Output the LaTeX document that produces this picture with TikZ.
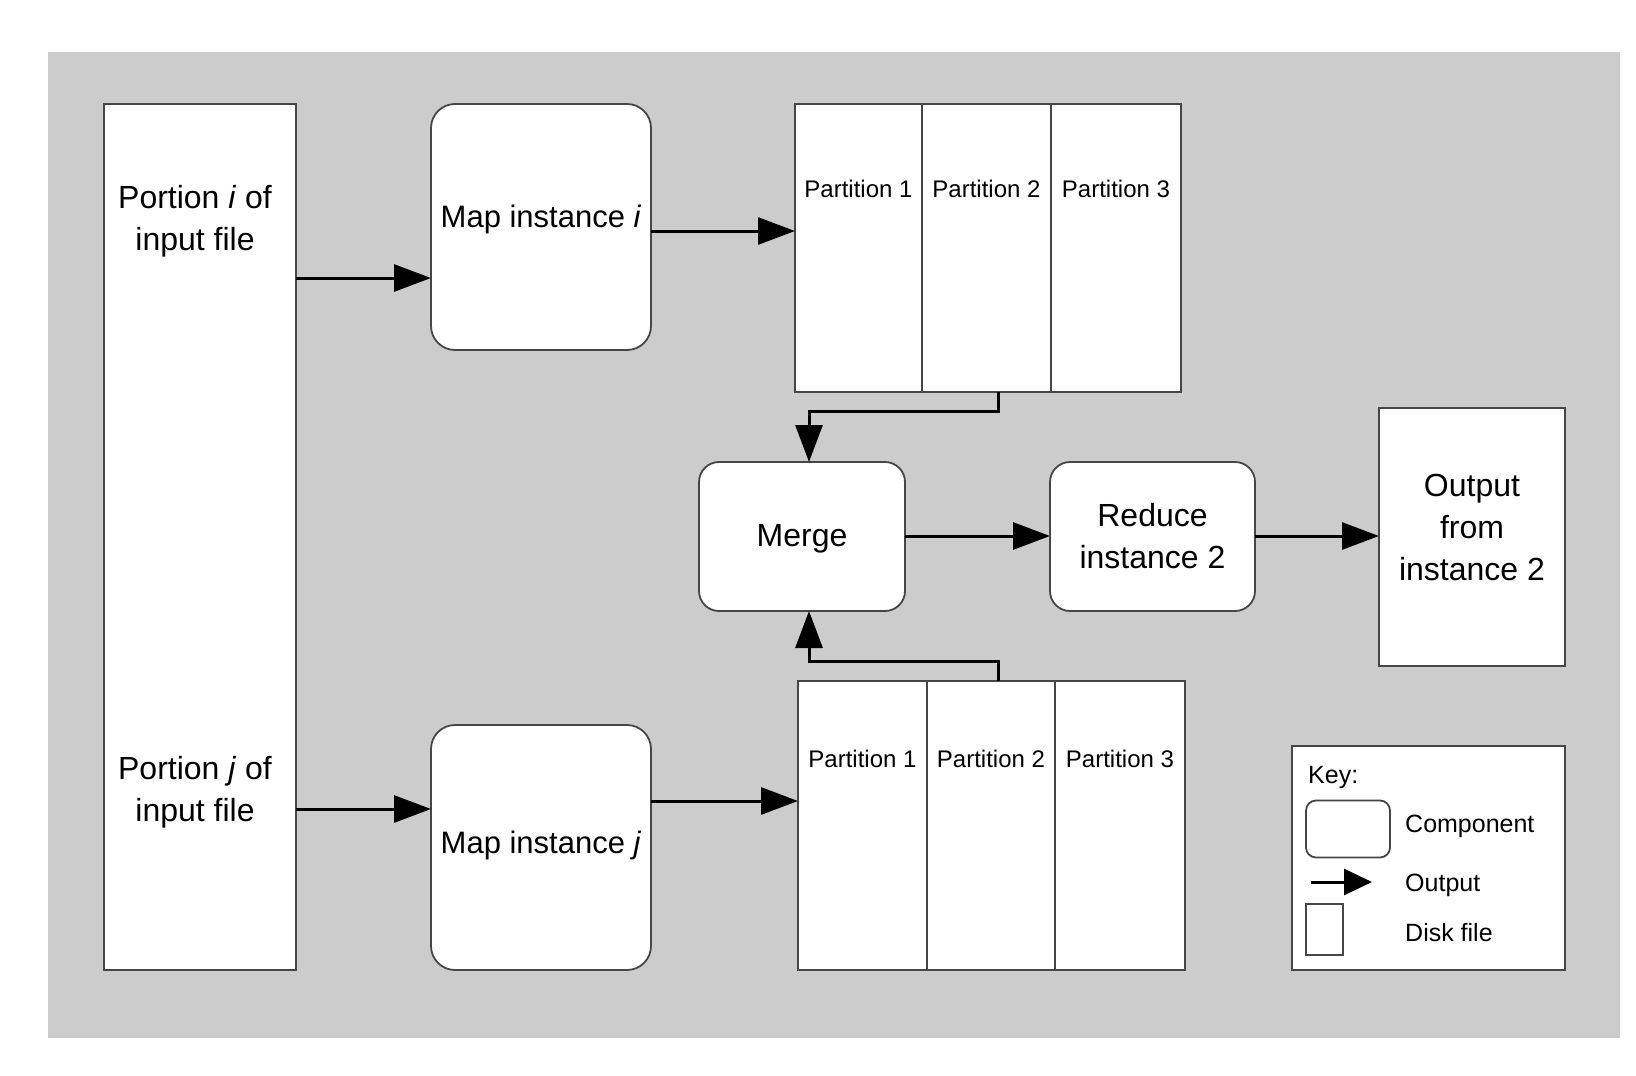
\documentclass[tikz,border=0pt]{standalone}
\usepackage{fontspec}
\setmainfont{Liberation Sans}
\usetikzlibrary{arrows.meta}
\definecolor{bgc}{RGB}{204,204,204}
\definecolor{edgec}{RGB}{70,70,70}
\tikzset{
  disk/.style={draw=edgec, fill=white, line width=1.8pt, inner sep=0pt, outer sep=0pt},
  comp/.style={disk, rounded corners=24pt},
  big/.style={font=\fontsize{32}{42}\selectfont, align=center, inner sep=0pt},
  small/.style={font=\fontsize{24}{28}\selectfont, inner sep=0pt},
  keytxt/.style={font=\fontsize{25}{30}\selectfont, inner sep=0pt, anchor=west},
  arr/.style={line width=3pt, -{Triangle[length=37pt,width=27pt]}},
}
\begin{document}
\begin{tikzpicture}[x=1pt,y=-1pt]
\useasboundingbox (0,0) rectangle (1636,1076);
\fill[bgc] (48,52) rectangle (1620,1038);

% input file
\node[disk, minimum width=192pt, minimum height=866pt] (inA) at (200,537) {};
\node[big] (inAt) at (195,221) {Portion \textit{i} of\\input file};
\node[big] (inBt) at (195,792) {Portion \textit{j} of\\input file};

% map instances
\node[comp, minimum width=220pt, minimum height=246pt] (mapi) at (541,227) {};
\node[big, font=\fontsize{31}{42}\selectfont] (mapit) at (541,219) {Map instance \textit{i}};
\node[comp, minimum width=220pt, minimum height=245pt] (mapj) at (541,847.5) {};
\node[big, font=\fontsize{31}{42}\selectfont] (mapjt) at (541,845) {Map instance \textit{j}};

% partitions top
\node[disk, minimum width=127pt, minimum height=288pt] (pt1) at (858.5,248) {};
\node[disk, minimum width=129pt, minimum height=288pt] (pt2) at (986.5,248) {};
\node[disk, minimum width=130pt, minimum height=288pt] (pt3) at (1116,248) {};
\node[small] (pt1t) at (858.5,189) {Partition 1};
\node[small] (pt2t) at (986.5,189) {Partition 2};
\node[small] (pt3t) at (1116,189) {Partition 3};

% partitions bottom
\node[disk, minimum width=129pt, minimum height=289pt] (pb1) at (862.5,825.5) {};
\node[disk, minimum width=128pt, minimum height=289pt] (pb2) at (991,825.5) {};
\node[disk, minimum width=130pt, minimum height=289pt] (pb3) at (1120,825.5) {};
\node[small] (pb1t) at (862.5,759) {Partition 1};
\node[small] (pb2t) at (991,759) {Partition 2};
\node[small] (pb3t) at (1120,759) {Partition 3};

% merge, reduce, output
\node[comp, rounded corners=20pt, minimum width=206pt, minimum height=149pt] (merge) at (802,536.5) {};
\node[big] (merget) at (802,539) {Merge};
\node[comp, rounded corners=20pt, minimum width=205pt, minimum height=149pt, font=\fontsize{32}{42}\selectfont, align=center] (reduce) at (1152.5,536.5) {Reduce\\instance 2};
\node[disk, minimum width=186pt, minimum height=258pt] (outp) at (1472,537) {};
\node[big] (outpt) at (1472,527) {Output\\from\\instance 2};

% connectors
\coordinate (yA) at (0,278);
\coordinate (yB) at (0,809);
\coordinate (yMi) at (0,231);
\coordinate (yMj) at (0,801);
\coordinate (yM) at (0,536);
\draw[arr] (inA.east |- yA) -- (mapi.west |- yA);
\draw[arr] (inA.east |- yB) -- (mapj.west |- yB);
\draw[arr] (mapi.east |- yMi) -- (pt1.west |- yMi);
\draw[arr] (mapj.east |- yMj) -- (pb1.west |- yMj);
\draw[arr] (merge.east |- yM) -- (reduce.west |- yM);
\draw[arr] (reduce.east |- yM) -- (outp.west |- yM);

\coordinate (xc) at (998,0);
\coordinate (xm) at (809,0);
\coordinate (bt1) at (998,411);
\coordinate (bt2) at (809,411);
\coordinate (bb1) at (998,661);
\coordinate (bb2) at (809,661);
\draw[arr] (pt2.south -| xc) -- (bt1) -- (bt2) -- (merge.north -| xm);
\draw[arr] (pb2.north -| xc) -- (bb1) -- (bb2) -- (merge.south -| xm);

% key
\node[disk, minimum width=273pt, minimum height=224pt] (key) at (1428.5,858) {};
\node[keytxt] (keyt) at (1308,777) {Key:};
\node[disk, rounded corners=10pt, minimum width=84pt, minimum height=57pt] (kcomp) at (1348,829) {};
\node[keytxt] (kcompt) at (1405,826) {Component};
\coordinate (ka) at (1311,882);
\coordinate (kb) at (1372,882);
\draw[line width=3pt, -{Triangle[length=28pt,width=26pt]}] (ka) -- (kb);
\node[keytxt] (koutt) at (1405,885) {Output};
\node[disk, minimum width=37pt, minimum height=51pt] (kdisk) at (1324.5,929.5) {};
\node[keytxt] (kdiskt) at (1405,933) {Disk file};
\end{tikzpicture}
\end{document}
